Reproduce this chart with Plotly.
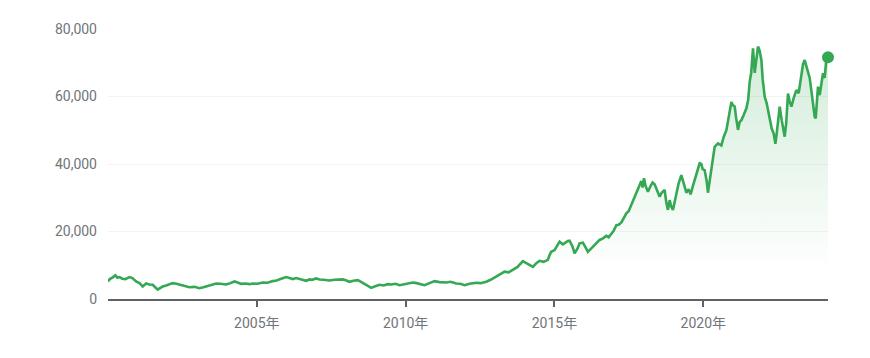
import plotly.graph_objects as go
import pandas as pd

# decimal years
years = [
 2000.005, 2000.067, 2000.161, 2000.252, 2000.319, 2000.386, 2000.487, 2000.588, 2000.722, 2000.823,
 2000.948, 2001.058, 2001.169, 2001.284, 2001.394, 2001.505, 2001.596, 2001.673, 2001.764, 2001.841,
 2001.956, 2002.067, 2002.177, 2002.302, 2002.460, 2002.628, 2002.739, 2002.907, 2003.075, 2003.209,
 2003.353, 2003.478, 2003.636, 2003.780, 2003.972, 2004.116, 2004.251, 2004.352, 2004.476, 2004.620,
 2004.755, 2004.866, 2005.024, 2005.202, 2005.360, 2005.538, 2005.662, 2005.820, 2005.988, 2006.099,
 2006.210, 2006.324, 2006.435, 2006.536, 2006.660, 2006.771, 2006.872, 2006.996, 2007.107, 2007.241,
 2007.443, 2007.611, 2007.779, 2007.890, 2008.014, 2008.115, 2008.249, 2008.394, 2008.518, 2008.676,
 2008.753, 2008.844, 2008.955, 2009.123, 2009.257, 2009.402, 2009.526, 2009.661, 2009.795, 2009.963,
 2010.097, 2010.242, 2010.366, 2010.501, 2010.635, 2010.803, 2010.971, 2011.139, 2011.364, 2011.509,
 2011.700, 2011.845, 2011.979, 2012.147, 2012.372, 2012.517, 2012.708, 2012.853, 2013.044, 2013.155,
 2013.323, 2013.458, 2013.602, 2013.760, 2013.938, 2014.063, 2014.163, 2014.274, 2014.399, 2014.499,
 2014.634, 2014.778, 2014.835, 2014.892, 2015.003, 2015.104, 2015.171, 2015.282, 2015.373, 2015.450,
 2015.507, 2015.608, 2015.675, 2015.776, 2015.843, 2015.954, 2016.045, 2016.122, 2016.213, 2016.290,
 2016.415, 2016.515, 2016.616, 2016.740, 2016.818, 2016.909, 2016.986, 2017.077, 2017.154, 2017.245,
 2017.322, 2017.413, 2017.490, 2017.557, 2017.635, 2017.725, 2017.793, 2017.860, 2017.917, 2017.960,
 2018.004, 2018.061, 2018.138, 2018.229, 2018.296, 2018.363, 2018.431, 2018.532, 2018.599, 2018.700,
 2018.757, 2018.811, 2018.868, 2018.918, 2018.979, 2019.093, 2019.170, 2019.261, 2019.338, 2019.429,
 2019.506, 2019.573, 2019.651, 2019.765, 2019.876, 2019.933, 2019.977, 2020.044, 2020.111, 2020.155,
 2020.212, 2020.279, 2020.380, 2020.491, 2020.605, 2020.682, 2020.773, 2020.850, 2020.941, 2020.985,
 2021.052, 2021.102, 2021.163, 2021.220, 2021.277, 2021.354, 2021.445, 2021.505, 2021.556, 2021.606,
 2021.667, 2021.724, 2021.774, 2021.835, 2021.892, 2021.949, 2021.993, 2022.060, 2022.127, 2022.228,
 2022.295, 2022.362, 2022.419, 2022.463, 2022.513, 2022.564, 2022.631, 2022.732, 2022.782, 2022.843,
 2022.900, 2022.957, 2023.034, 2023.125, 2023.202, 2023.293, 2023.347, 2023.404, 2023.471, 2023.515,
 2023.572, 2023.639, 2023.690, 2023.740, 2023.774, 2023.851, 2023.908, 2023.965, 2024.019, 2024.076,
 2024.133, 2024.187,
]

prices = [
 5200, 5900, 6400, 7000, 6300, 6500, 6000, 5900, 6500, 6200,
 5200, 4700, 3700, 4600, 4300, 4200, 3400, 2800, 3300, 3700,
 4000, 4400, 4700, 4500, 4200, 3700, 3500, 3600, 3200, 3500,
 3900, 4200, 4600, 4500, 4300, 4700, 5200, 4900, 4500, 4600,
 4400, 4600, 4500, 4900, 4800, 5300, 5500, 6000, 6500, 6200,
 5900, 6200, 5900, 5600, 5400, 5800, 5700, 6100, 5800, 5700,
 5500, 5700, 5700, 5800, 5500, 5100, 5400, 5600, 5000, 4200,
 3700, 3300, 3700, 4200, 4000, 4400, 4300, 4500, 4100, 4400,
 4700, 4900, 4700, 4400, 4100, 4700, 5300, 5000, 4900, 5100,
 4600, 4500, 4100, 4500, 4800, 4700, 5100, 5700, 6600, 7200,
 8100, 7900, 8600, 9500, 11200, 10600, 10000, 9500, 10700, 11300,
 11000, 11600, 13000, 14000, 14500, 15800, 17000, 16200, 16800, 17200,
 17300, 15500, 13500, 15000, 16500, 16700, 15300, 14000, 14800, 15500,
 16600, 17500, 17900, 18700, 18300, 19500, 20200, 21900, 22000, 22700,
 23800, 25400, 26000, 27500, 29300, 31000, 32500, 33800, 35000, 33000,
 35800, 33500, 31800, 33500, 34500, 34000, 32500, 30300, 31500, 32300,
 28500, 26400, 29300, 27500, 26400, 31000, 34300, 36700, 34000, 31500,
 32500, 31000, 33500, 37200, 40200, 40000, 38500, 38200, 35000, 31500,
 35500, 39000, 45100, 46100, 45500, 48000, 50000, 54000, 58400, 57500,
 57000, 53500, 50100, 52500, 53000, 54500, 56500, 59000, 64400, 67000,
 74300, 67000, 71000, 74800, 73500, 70800, 65000, 59900, 58000, 54000,
 50500, 49000, 46000, 49000, 54000, 57000, 53000, 48100, 52000, 60900,
 58500, 57000, 59500, 61900, 61000, 65900, 69500, 70800, 68500, 66900,
 65500, 61000, 57000, 54000, 53500, 62900, 60400, 63400, 66900, 65500,
 71300, 71600,
]

tick_years = [2005, 2010, 2015, 2020]
tick_text = ["2005年", "2010年", "2015年", "2020年"]
y_ticks = [0, 20000, 40000, 60000, 80000]


def to_date(t):
    y = int(t)
    start = pd.Timestamp(year=y, month=1, day=1)
    end = pd.Timestamp(year=y + 1, month=1, day=1)
    return start + (end - start) * (t - y)


dates = [to_date(t) for t in years]
tick_dates = [pd.Timestamp(year=y, month=1, day=1) for y in tick_years]

GREEN = "#34a853"
GREY = "#70757a"

fig = go.Figure()
fig.add_trace(go.Scatter(
    x=dates, y=prices, mode="lines",
    line=dict(color=GREEN, width=2.6),
    fill="tozeroy",
    fillgradient=dict(type="vertical", start=8000, stop=75000,
                      colorscale=[[0, "rgba(52,168,83,0)"], [1, "rgba(52,168,83,0.22)"]]),
    hoverinfo="skip",
))
fig.add_trace(go.Scatter(
    x=[dates[-1]], y=[prices[-1]], mode="markers",
    marker=dict(color=GREEN, size=12), cliponaxis=False, hoverinfo="skip",
))

font_family = "Roboto, 'Noto Sans CJK JP', sans-serif"
fig.update_layout(
    width=870, height=358,
    margin=dict(l=108, r=42, t=29, b=59),
    paper_bgcolor="white", plot_bgcolor="white",
    showlegend=False,
    font=dict(family=font_family, size=14, color=GREY),
)
fig.update_xaxes(
    range=[dates[0], dates[-1]],
    tickvals=tick_dates, ticktext=tick_text,
    showgrid=False, zeroline=False,
    showline=True, linecolor="#5f6368", linewidth=1.5,
    ticks="outside", ticklen=6, tickwidth=2, tickcolor="#5f6368",
    tickfont=dict(size=14, color=GREY, family=font_family),
    ticklabelstandoff=4,
)
fig.update_yaxes(
    range=[0, 80000],
    tickvals=y_ticks, tickformat=",",
    showgrid=True, gridcolor="#f1f3f4", gridwidth=1,
    zeroline=False, showline=False,
    tickfont=dict(size=14, color=GREY, family=font_family),
    ticklabelstandoff=10,
)

fig.write_html("out.html")
